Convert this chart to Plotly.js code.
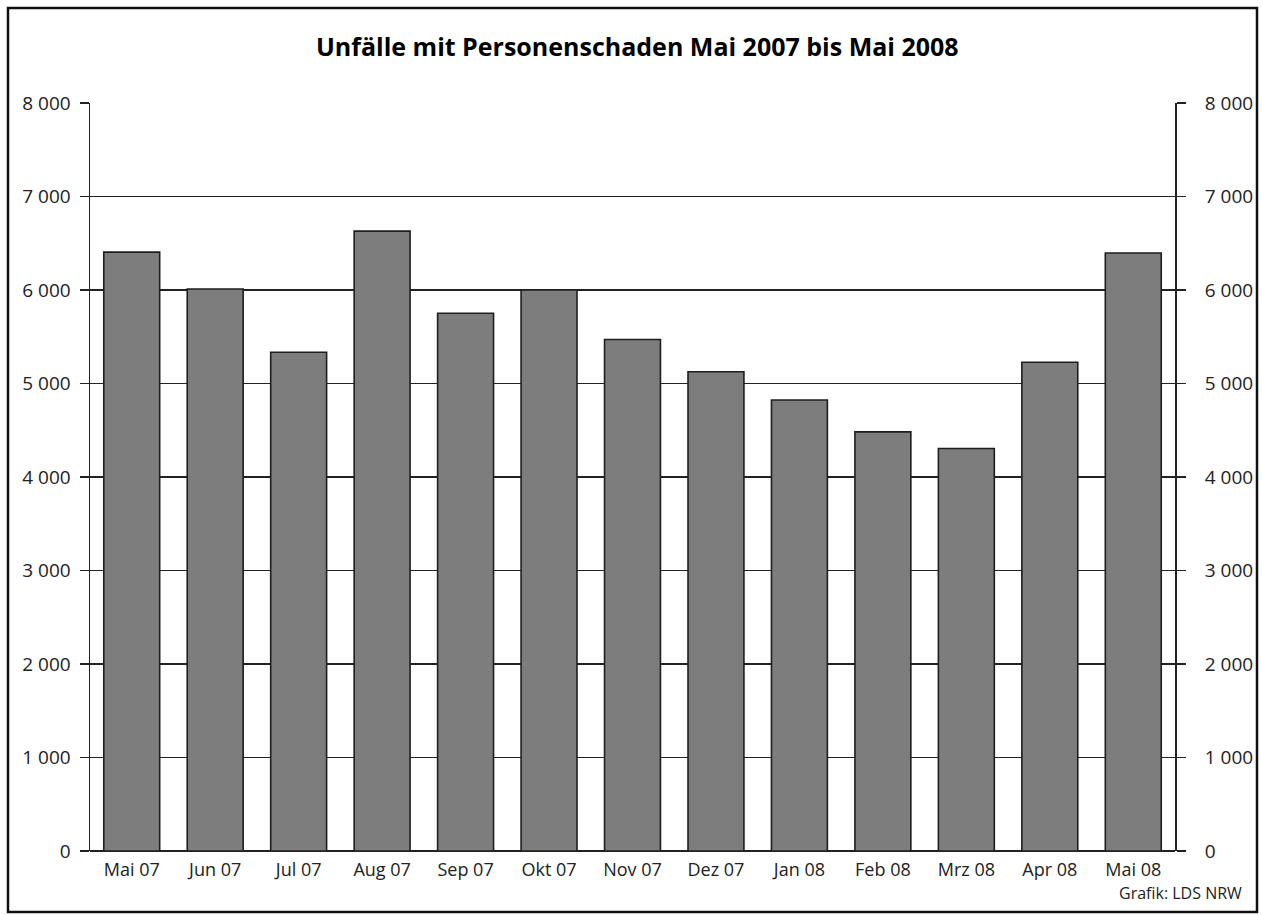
<!DOCTYPE html>
<html>
<head>
<meta charset="utf-8">
<script src="https://cdn.plot.ly/plotly-3.0.1.min.js"></script>
<style>
html,body{margin:0;padding:0;background:#fff;}
#chart{width:1262px;height:915px;}
</style>
</head>
<body>
<div id="chart"></div>
<script>
const months = ["Mai 07","Jun 07","Jul 07","Aug 07","Sep 07","Okt 07","Nov 07","Dez 07","Jan 08","Feb 08","Mrz 08","Apr 08","Mai 08"];
const accidents = [6405, 6010, 5334, 6630, 5751, 6000, 5470, 5125, 4824, 4483, 4305, 5228, 6396];
const tickValues = [0,1000,2000,3000,4000,5000,6000,7000,8000];
const tickLabels = ["0","1 000","2 000","3 000","4 000","5 000","6 000","7 000","8 000"];

const font = "'Open Sans', 'Noto Sans', sans-serif";

const traces = [
  {
    type: "bar",
    x: months,
    y: accidents,
    marker: {color: "#7d7d7d", line: {color: "#1e1e1e", width: 1.6}},
    hoverinfo: "x+y",
    showlegend: false
  },
  {
    type: "scatter",
    mode: "markers",
    x: months,
    y: accidents,
    yaxis: "y2",
    marker: {opacity: 0},
    hoverinfo: "skip",
    showlegend: false
  }
];

const axisCommon = {
  range: [0, 8000],
  tickvals: tickValues,
  ticks: "outside",
  ticklen: 9,
  tickwidth: 1.4,
  tickcolor: "#222",
  showline: true,
  linecolor: "#222",
  linewidth: 1.5,
  tickfont: {family: font, size: 19, color: "#222"},
  fixedrange: true
};

const layout = {
  width: 1262,
  height: 915,
  margin: {l: 90, r: 87, t: 103, b: 64},
  paper_bgcolor: "#ffffff",
  plot_bgcolor: "#ffffff",
  bargap: 0.33,
  title: {
    text: "<b>Unfälle mit Personenschaden Mai 2007 bis Mai 2008</b>",
    font: {family: font, size: 25, color: "#000"},
    x: 0.505, xanchor: "center",
    y: 0.948, yanchor: "middle"
  },
  xaxis: {
    type: "category",
    range: [-0.5, 12.5],
    showline: false,
    ticks: "",
    showgrid: false,
    tickfont: {family: font, size: 18, color: "#222"},
    ticklabelstandoff: 6,
    fixedrange: true
  },
  yaxis: Object.assign({}, axisCommon, {
    side: "left",
    ticktext: tickLabels,
    showgrid: true,
    gridcolor: "#222",
    gridwidth: 1.4,
    zeroline: true,
    zerolinecolor: "#222",
    zerolinewidth: 1.6,
    ticklabelstandoff: 5
  }),
  yaxis2: Object.assign({}, axisCommon, {
    side: "right",
    overlaying: "y",
    ticktext: tickLabels.map(t => "\u2002" + t),
    showgrid: false,
    zeroline: false,
    ticklabelstandoff: 6
  }),
  shapes: [
    {
      type: "rect", xref: "paper", yref: "paper",
      x0: (8 - 90) / 1085, x1: (1257 - 90) / 1085,
      y0: (851 - 912) / 748, y1: (851 - 8) / 748,
      line: {color: "#111", width: 2.5},
      fillcolor: "rgba(0,0,0,0)",
      layer: "above"
    }
  ],
  annotations: [
    {
      text: "Grafik: LDS NRW",
      xref: "paper", yref: "paper",
      x: (1244 - 90) / 1085, xanchor: "right",
      y: (851 - 893) / 748, yanchor: "middle",
      showarrow: false,
      font: {family: font, size: 16, color: "#222"}
    }
  ]
};

Plotly.newPlot("chart", traces, layout, {displayModeBar: false, staticPlot: true});
</script>
</body>
</html>
